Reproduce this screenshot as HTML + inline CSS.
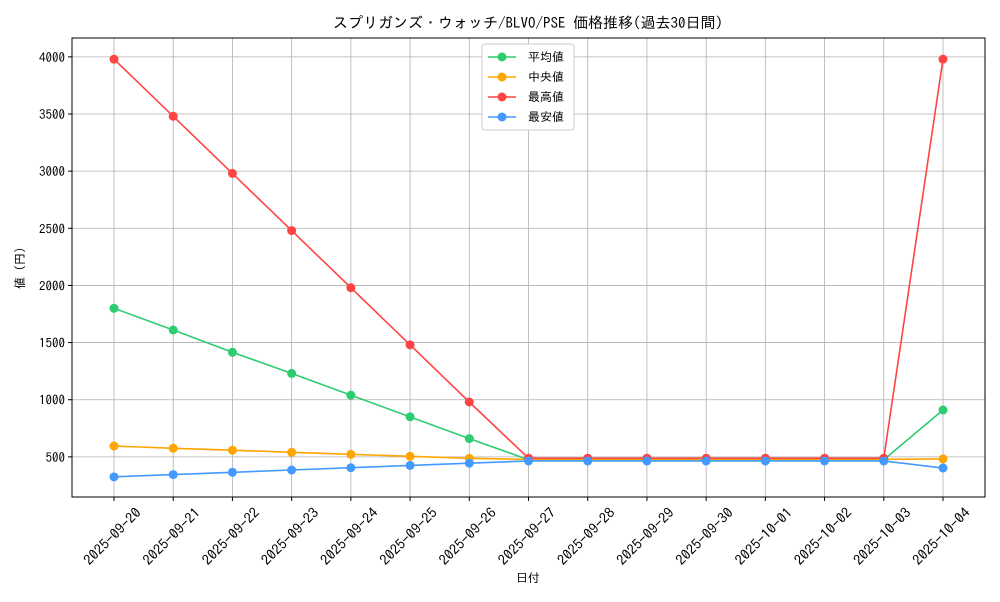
<!DOCTYPE html>
<html><head><meta charset="utf-8"><style>
body{margin:0;background:#fff;font-family:"IPAGothic","Noto Sans CJK JP",sans-serif;}
</style></head><body>
<svg id="c" width="1000" height="600" xmlns="http://www.w3.org/2000/svg"></svg>
<script>
const categories=["2025-09-20","2025-09-21","2025-09-22","2025-09-23","2025-09-24","2025-09-25","2025-09-26","2025-09-27","2025-09-28","2025-09-29","2025-09-30","2025-10-01","2025-10-02","2025-10-03","2025-10-04"];
const meanVals=[1800,1610,1415,1230,1040,850,660,475,475,475,475,475,475,475,910];
const medianVals=[595,575,558,540,522,505,487,478,478,478,478,478,478,478,482];
const maxVals=[3980,3480,2980,2480,1980,1480,980,488,488,488,488,488,488,488,3980];
const minVals=[325,345,365,385,405,425,445,464,464,464,464,464,464,464,402];
const yTicks=[500,1000,1500,2000,2500,3000,3500,4000];
const seriesNames=["平均値","中央値","最高値","最安値"];
const seriesColors=["#2ecc71","#ffa500","#ff4444","#4499ff"];
const seriesData=[meanVals,medianVals,maxVals,minVals];

const svg=document.getElementById('c');
const NS="http://www.w3.org/2000/svg";
const L=72,R=985,T=38,B=497;
const x=i=>114+i*(943-114)/(categories.length-1);
const y=v=>514-v*(400/3500);
function mk(tag,attrs,parent){const e=document.createElementNS(NS,tag);for(const k in attrs)e.setAttribute(k,attrs[k]);(parent||svg).appendChild(e);return e;}
const fnt='"IPAGothic","Noto Sans CJK JP",sans-serif';

const grid=mk('g',{});


categories.forEach((c,i)=>{mk('line',{x1:x(i),x2:x(i),y1:T,y2:B,stroke:'#b0b0b0','stroke-width':0.8},grid);});
yTicks.forEach(v=>{mk('line',{x1:L,x2:R,y1:y(v),y2:y(v),stroke:'#b0b0b0','stroke-width':0.8},grid);});

const frame=mk('rect',{x:L,y:T,width:R-L,height:B-T,fill:'none',stroke:'#000','stroke-width':1});



const xa=mk('g',{});


categories.forEach((c,i)=>{
 mk('line',{x1:x(i),x2:x(i),y1:B,y2:B+4,stroke:'#000'},xa);
 const cx=x(i)-1,cy=541;
 const t=mk('text',{x:cx,y:cy,'font-size':14,'font-family':fnt,'text-anchor':'middle',textLength:74,lengthAdjust:'spacingAndGlyphs',transform:`rotate(-45 ${cx} ${cy-4})`},xa);
 t.textContent=c;
 
 
});
const ya=mk('g',{});


yTicks.forEach(v=>{
 mk('line',{x1:L-4,x2:L,y1:y(v),y2:y(v),stroke:'#000'},ya);
 const t=mk('text',{x:L-7,y:y(v)+5,'font-size':13,'font-family':fnt,'text-anchor':'end'},ya);
 t.textContent=v;
 
 
});

seriesData.forEach((d,s)=>{
 const g=mk('g',{});
 
 
 mk('polyline',{points:d.map((v,i)=>x(i)+','+y(v)).join(' '),fill:'none',stroke:seriesColors[s],'stroke-width':1.6},g);
 d.forEach((v,i)=>{const p=mk('circle',{cx:x(i),cy:y(v),r:4.5,fill:seriesColors[s]},g);
  
  });
});

const lg=mk('g',{});


mk('rect',{x:482,y:44,width:92,height:86,fill:'#fff',stroke:'#ccc',rx:3},lg);
seriesNames.forEach((n,s)=>{
 const yy=57+s*20;
 const e=mk('g',{},lg);
 
 
 mk('line',{x1:488,x2:516,y1:yy,y2:yy,stroke:seriesColors[s],'stroke-width':1.6},e);
 mk('circle',{cx:502,cy:yy,r:4.5,fill:seriesColors[s]},e);
 const t=mk('text',{x:528,y:yy+4,'font-size':12,'font-family':fnt},e);t.textContent=n;
});

const title=mk('text',{x:528,y:28,'font-size':15,'font-family':fnt,'text-anchor':'middle'});
title.textContent="スプリガンズ・ウォッチ/BLVO/PSE 価格推移(過去30日間)";


const xt=mk('text',{x:528,y:582,'font-size':12,'font-family':fnt,'text-anchor':'middle'});
xt.textContent="日付";


const yt=mk('text',{x:24,y:268,'font-size':12,'font-family':fnt,'text-anchor':'middle',transform:'rotate(-90 24 268)'});
yt.textContent="値 (円)";


</script>
</body></html>
